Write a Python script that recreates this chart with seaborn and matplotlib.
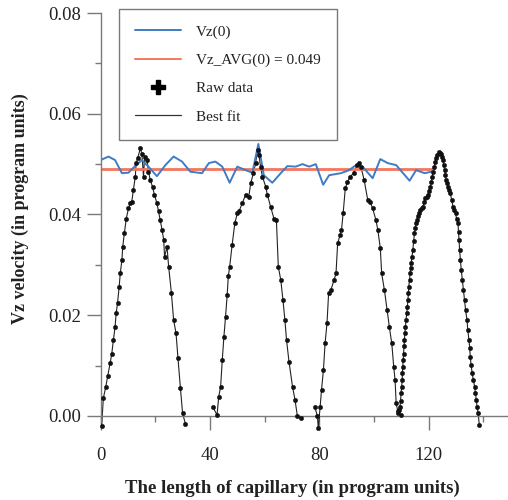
import numpy as np
import pandas as pd
import matplotlib
matplotlib.use("Agg")
import matplotlib.pyplot as plt
from matplotlib.lines import Line2D
from matplotlib.ticker import MultipleLocator, FormatStrFormatter
import seaborn as sns

# Vz(0) along the capillary
vz_x = [0, 2.9, 5.3, 7.8, 10.2, 12.4, 15.1, 17.5, 20.6, 23.7, 26.7, 29.8, 32.8, 37.1,
        39.6, 42.0, 44.5, 47.2, 50.0, 53.0, 55.5, 57.7, 59.7, 62.8, 65.9, 68.3, 71.4,
        73.8, 76.3, 78.7, 81.4, 83.6, 87.9, 90.9, 93.4, 95.8, 99.5, 102.3, 105.0,
        108.1, 113.0, 115.4, 118.5, 121.0]
vz_y = [0.0508, 0.0515, 0.0508, 0.0482, 0.0483, 0.0495, 0.0508, 0.0495, 0.0476, 0.0498,
        0.0515, 0.0505, 0.0485, 0.0482, 0.0502, 0.0505, 0.0495, 0.0463, 0.0495, 0.0488,
        0.0483, 0.0540, 0.0478, 0.0463, 0.0482, 0.0496, 0.0495, 0.0500, 0.0495, 0.0500,
        0.0459, 0.0478, 0.0482, 0.0488, 0.0498, 0.0495, 0.0472, 0.0510, 0.0502,
        0.0498, 0.0467, 0.0488, 0.0482, 0.0485]

vz_avg = 0.049
avg_x = [0, 121.5]

# raw data, four peaks
p1_x = [0.4, 1.0, 1.9, 2.6, 3.5, 4.1, 4.7, 5.3, 5.7, 6.2, 6.8, 7.2, 7.8, 8.1, 8.7, 9.4,
        10.2, 10.8, 11.4, 12.0, 12.7, 13.0, 13.6, 14.5, 15.1, 15.7, 16.1, 17.0, 17.5,
        18.2, 19.0, 19.7, 20.6, 21.2, 21.8, 22.5, 23.1, 23.4, 24.3, 24.9, 25.9, 26.7,
        27.6, 28.3, 29.2, 30.0, 31.0]
p1_y = [-0.0020, 0.0035, 0.0058, 0.0079, 0.0105, 0.0124, 0.0151, 0.0177, 0.0204, 0.0224,
        0.0257, 0.0283, 0.0310, 0.0336, 0.0363, 0.0392, 0.0412, 0.0422, 0.0425, 0.0449,
        0.0475, 0.0502, 0.0512, 0.0531, 0.0521, 0.0475, 0.0515, 0.0508, 0.0485, 0.0468,
        0.0455, 0.0439, 0.0422, 0.0406, 0.0389, 0.0369, 0.0349, 0.0316, 0.0336, 0.0296,
        0.0244, 0.0191, 0.0164, 0.0115, 0.0055, 0.0005, -0.0015]

p2_x = [41.0, 42.6, 43.2, 43.9, 44.5, 45.1, 45.7, 46.3, 46.7, 47.2, 48.1, 49.1, 50.0,
        50.6, 51.8, 53.0, 54.2, 54.9, 55.9, 56.7, 57.4, 57.9, 58.5, 59.2, 60.4, 61.0,
        62.2, 63.4, 64.3, 65.0, 65.9, 66.7, 67.4, 68.0, 68.9, 70.2, 71.1, 72.0, 73.2]
p2_y = [0.0018, 0.0002, 0.0038, 0.0058, 0.0111, 0.0157, 0.0197, 0.0240, 0.0277, 0.0296,
        0.0339, 0.0383, 0.0402, 0.0406, 0.0422, 0.0439, 0.0435, 0.0462, 0.0482, 0.0502,
        0.0528, 0.0518, 0.0495, 0.0475, 0.0455, 0.0439, 0.0415, 0.0392, 0.0389, 0.0296,
        0.0270, 0.0230, 0.0191, 0.0151, 0.0108, 0.0058, 0.0032, -0.0001, -0.0005]

p3_x = [78.3, 79.3, 79.6, 80.3, 80.8, 81.5, 82.1, 82.8, 83.4, 84.2, 85.4, 86.1, 86.7,
        87.6, 88.1, 88.7, 89.5, 90.3, 91.3, 92.5, 93.8, 94.6, 95.2, 96.4, 97.7, 98.6,
        99.5, 100.7, 101.4, 102.3, 102.8, 103.8, 104.8, 105.6, 106.5, 107.2, 107.7,
        108.1, 108.7, 109.7]
p3_y = [0.0018, 0.0000, -0.0024, 0.0018, 0.0052, 0.0091, 0.0144, 0.0184, 0.0244, 0.0250,
        0.0270, 0.0283, 0.0343, 0.0359, 0.0369, 0.0402, 0.0452, 0.0465, 0.0475, 0.0482,
        0.0498, 0.0502, 0.0495, 0.0468, 0.0429, 0.0425, 0.0412, 0.0389, 0.0369, 0.0333,
        0.0283, 0.0250, 0.0210, 0.0177, 0.0144, 0.0098, 0.0071, 0.0025, 0.0009, 0.0002]

p4_x = [108.7, 109.1, 109.5, 109.7, 109.9, 110.1, 110.3, 110.4, 110.5, 110.7, 110.8,
        111.0, 111.1, 111.3, 111.5, 111.7, 112.0, 112.2, 112.4, 112.6, 112.7, 113.0,
        113.2, 113.4, 113.6, 113.9, 114.2, 114.5, 114.8, 115.1, 115.4, 115.7, 116.0,
        116.4, 116.9, 117.4, 117.9, 118.3, 118.8, 119.2, 119.7, 120.1, 120.6, 121.0,
        121.3, 121.7, 122.1, 122.4, 122.8, 123.2, 123.7, 124.1, 124.6, 124.9, 125.2,
        125.5, 125.8, 126.1, 126.4, 126.7, 127.0, 127.4, 127.9, 128.4, 128.9, 129.3,
        129.8, 130.2, 130.7, 130.9, 131.1, 131.3, 131.6, 131.9, 132.3, 132.7, 133.1,
        133.5, 134.0, 134.3, 134.7, 135.0, 135.2, 135.5, 135.9, 136.3, 136.8, 137.1,
        137.4, 137.7, 138.1, 138.5]
p4_y = [0.0005, 0.0012, 0.0018, 0.0030, 0.0045, 0.0058, 0.0071, 0.0085, 0.0098, 0.0111,
        0.0124, 0.0138, 0.0151, 0.0164, 0.0177, 0.0190, 0.0204, 0.0217, 0.0230, 0.0244,
        0.0257, 0.0270, 0.0283, 0.0293, 0.0303, 0.0316, 0.0330, 0.0347, 0.0363, 0.0373,
        0.0383, 0.0390, 0.0396, 0.0402, 0.0409, 0.0412, 0.0415, 0.0424, 0.0432, 0.0435,
        0.0439, 0.0447, 0.0455, 0.0465, 0.0475, 0.0485, 0.0495, 0.0504, 0.0512, 0.0518,
        0.0525, 0.0523, 0.0521, 0.0515, 0.0508, 0.0498, 0.0488, 0.0478, 0.0468, 0.0462,
        0.0455, 0.0449, 0.0442, 0.0429, 0.0415, 0.0409, 0.0402, 0.0392, 0.0383, 0.0366,
        0.0349, 0.0330, 0.0310, 0.0290, 0.0270, 0.0250, 0.0230, 0.0210, 0.0191, 0.0171,
        0.0151, 0.0135, 0.0118, 0.0101, 0.0085, 0.0072, 0.0058, 0.0045, 0.0032, 0.0018,
        0.0005, -0.0018]

raw = pd.concat([
    pd.DataFrame({"x": p1_x, "y": p1_y, "peak": 1}),
    pd.DataFrame({"x": p2_x, "y": p2_y, "peak": 2}),
    pd.DataFrame({"x": p3_x, "y": p3_y, "peak": 3}),
    pd.DataFrame({"x": p4_x, "y": p4_y, "peak": 4}),
], ignore_index=True)
vz = pd.DataFrame({"x": vz_x, "y": vz_y})
avg = pd.DataFrame({"x": avg_x, "y": [vz_avg] * len(avg_x)})

sns.set_theme(style="white")
plt.rcParams["font.family"] = ["Liberation Serif", "DejaVu Serif"]

blue = "#3f7cc4"
red = "#f2775f"
gray = "#7a7a7a"

fig = plt.figure(figsize=(5.08, 5.0), dpi=100)
ax = fig.add_axes([0.198, 0.157, 0.802, 0.817])

# best fit line through the peaks
sns.lineplot(data=raw, x="x", y="y", units="peak", estimator=None, sort=False,
             color="#222222", lw=0.8, ax=ax, clip_on=False)
sns.lineplot(data=avg, x="x", y="y", color=red, lw=2.0, ax=ax)
sns.lineplot(data=vz, x="x", y="y", color=blue, lw=1.4, ax=ax)
sns.scatterplot(data=raw, x="x", y="y", marker="o", s=10, color="#111111",
                edgecolor="#111111", linewidth=0.3, ax=ax, clip_on=False, zorder=4)

ax.set_xlim(0, 149)
ax.set_ylim(-0.0011, 0.08)
ax.spines["bottom"].set_position(("data", 0))
ax.spines["top"].set_visible(False)
ax.spines["right"].set_visible(False)
for s in ["left", "bottom"]:
    ax.spines[s].set_color(gray)
    ax.spines[s].set_linewidth(1.0)

ax.xaxis.set_major_locator(MultipleLocator(40))
ax.xaxis.set_minor_locator(MultipleLocator(20))
ax.yaxis.set_major_locator(MultipleLocator(0.02))
ax.yaxis.set_minor_locator(MultipleLocator(0.01))
ax.yaxis.set_major_formatter(FormatStrFormatter("%.2f"))
ax.tick_params(which="major", direction="out", length=10, width=1, color=gray,
               labelsize=13.5, labelcolor="#222222", bottom=True, left=True, pad=4)
ax.tick_params(axis="x", which="major", pad=12)
ax.tick_params(which="minor", direction="out", length=4.5, width=1, color=gray,
               bottom=True, left=True)

ax.set_xlabel("The length of capillary (in program units)", fontsize=13.5,
              fontweight="bold", color="#222222")
ax.set_ylabel("Vz velocity (in program units)", fontsize=13,
              fontweight="bold", color="#222222")
ax.xaxis.label.set_va("center")
ax.yaxis.label.set_va("center")
ax.xaxis.set_label_coords(0.47, -0.163)
ax.yaxis.set_label_coords(-0.196, 0.52)

handles = [
    Line2D([], [], color=blue, lw=1.4),
    Line2D([], [], color=red, lw=1.4),
    Line2D([], [], color="black", marker="P", markersize=10, linestyle="none"),
    Line2D([], [], color="#333333", lw=0.9),
]
labels = ["Vz(0)", "Vz_AVG(0) = 0.049", "Raw data", "Best fit"]
leg = fig.legend(handles, labels, loc="upper left", bbox_to_anchor=(0.234, 0.982),
                 fontsize=11, frameon=True, fancybox=False, framealpha=1,
                 edgecolor=gray, handlelength=3.0, handletextpad=1.0,
                 labelspacing=0.95, borderpad=1.05, borderaxespad=0)
leg.get_frame().set_linewidth(1.0)
for t in leg.get_texts():
    t.set_color("#222222")

fig.savefig("out.png", dpi=100)
